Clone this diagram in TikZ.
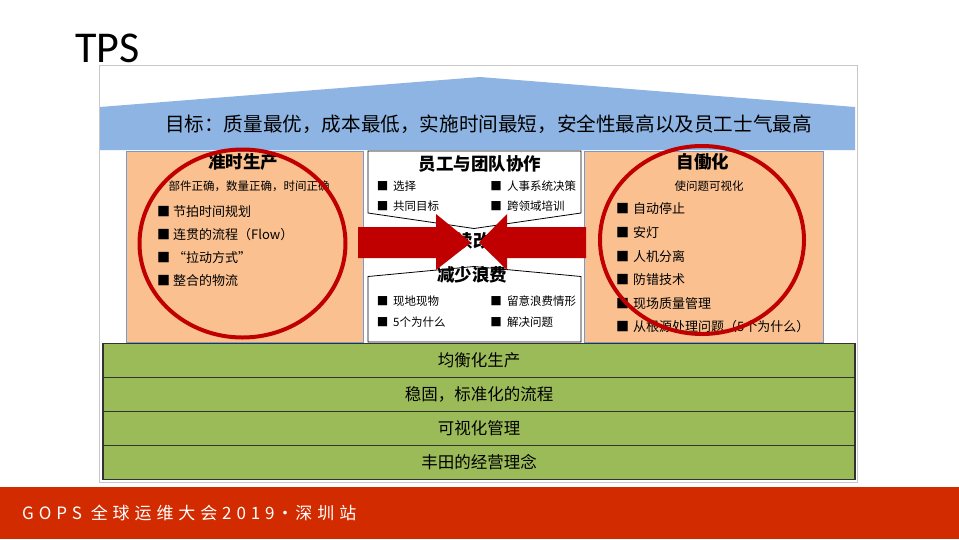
\documentclass[tikz,border=0pt]{standalone}
\usepackage{fontspec}
\setmainfont{Noto Sans CJK SC}
\newfontfamily\tpsfont{Carlito}
\definecolor{roofblue}{RGB}{141,180,226}
\definecolor{pillarorange}{RGB}{250,192,144}
\definecolor{pillaredge}{RGB}{120,155,205}
\definecolor{bargreen}{RGB}{155,187,89}
\definecolor{baredge}{RGB}{50,50,50}
\definecolor{ringred}{RGB}{192,0,0}
\definecolor{footred}{RGB}{210,43,0}
\definecolor{framegrey}{RGB}{200,200,200}
\newcommand\lsp[1]{#1\kern4.9pt}
\begin{document}
\begin{tikzpicture}[x=1pt,y=-1pt,
  txt/.style={inner sep=0pt, text height=0.88em, text depth=0.12em},
  head/.style={txt, font=\fontsize{17.5}{19}\selectfont\bfseries},
  sub/.style={txt, font=\fontsize{11.5}{13}\selectfont},
  item/.style={txt, anchor=west, font=\fontsize{13}{15}\selectfont},
  mitem/.style={txt, anchor=west, font=\fontsize{11.5}{13}\selectfont},
  bul/.style={txt, font=\fontsize{13}{15}\selectfont},
  mbul/.style={txt, font=\fontsize{11.5}{13}\selectfont},
  pillar/.style={fill=pillarorange, draw=pillaredge, line width=0.8pt},
  midbox/.style={fill=white, draw=black, line width=0.8pt},
  greenbar/.style={fill=bargreen, draw=baredge, line width=1.2pt, minimum width=752pt, minimum height=34pt, inner sep=0pt, font=\fontsize{16.5}{18}\selectfont},
  redring/.style={draw=ringred, line width=4pt},
  bigarrow/.style={fill=ringred, draw=none}]
\useasboundingbox (0,0) rectangle (959,539);
\fill[white] (0,0) rectangle (959,539);
% title
\node[inner sep=0pt, anchor=base west, font=\tpsfont\fontsize{44}{46}\selectfont] (tps) at (75,62) {TPS};
% frame
\draw[framegrey, line width=0.8pt] (99,65) rectangle (857,482);
% roof
\fill[roofblue] (100,150) -- (100,107) -- (480,77) -- (855,107) -- (855,150) -- cycle;
\node[txt, font=\fontsize{19.6}{22}\selectfont] (goal) at (488.5,128) {目标：质量最优，成本最低，实施时间最短，安全性最高以及员工士气最高};
% pillars
\draw[pillar] (126,151) rectangle (363,342);
\draw[pillar] (584,151) rectangle (823,342);
% middle boxes
\draw[midbox] (368,151) -- (581,151) -- (581,213) -- (474,228.5) -- (368,213) -- cycle;
\draw[midbox] (368,276.5) -- (474,266.5) -- (581,276.5) -- (581,342) -- (368,342) -- cycle;
% left pillar text
\node[head] (jit) at (243,165) {准时生产};
\node[sub] (jitsub) at (249,187) {部件正确，数量正确，时间正确};
\foreach \t [count=\i] in {节拍时间规划, 连贯的流程（Flow）, “拉动方式”, 整合的物流} {
  \node[bul] (lb\i) at (163.5,{213+23*(\i-1)}) {■};
  \node[item] (lt\i) at (173,{213+23*(\i-1)}) {\t};
}
% right pillar text
\node[head] (jido) at (703,165) {自働化};
\node[sub] (jidosub) at (709,187) {使问题可视化};
\foreach \t [count=\i] in {自动停止, 安灯, 人机分离, 防错技术, 现场质量管理, 从根源处理问题（5个为什么）} {
  \node[bul] (rb\i) at (622.5,{210+23.6*(\i-1)}) {■};
  \node[item] (rt\i) at (633,{210+23.6*(\i-1)}) {\t};
}
% middle top
\node[head] (team) at (480,167) {员工与团队协作};
\node[mbul] (tb1) at (382.5,187) {■};
\node[mitem] (tt1) at (393,187) {选择};
\node[mbul] (tb2) at (382.5,207) {■};
\node[mitem] (tt2) at (393,207) {共同目标};
\node[mbul] (tb3) at (496,187) {■};
\node[mitem] (tt3) at (507,187) {人事系统决策};
\node[mbul] (tb4) at (496,207) {■};
\node[mitem] (tt4) at (507,207) {跨领域培训};
% middle bottom
\node[head] (waste) at (472,278) {减少浪费};
\node[mbul] (wb1) at (382.5,302) {■};
\node[mitem] (wt1) at (393,302) {现地现物};
\node[mbul] (wb2) at (382.5,323) {■};
\node[mitem] (wt2) at (393,323) {5个为什么};
\node[mbul] (wb3) at (496,302) {■};
\node[mitem] (wt3) at (507,302) {留意浪费情形};
\node[mbul] (wb4) at (496,323) {■};
\node[mitem] (wt4) at (507,323) {解决问题};
% kaizen
\node[head] (kaizen) at (473,244) {持续改善};
% arrows
\fill[bigarrow] (358,227) -- (436,227) -- (436,214) -- (471,242.5) -- (436,270) -- (436,258) -- (358,258) -- cycle;
\fill[bigarrow] (586,227) -- (507,227) -- (507,214) -- (479,242.5) -- (507,270) -- (507,258) -- (586,258) -- cycle;
% rings
\draw[redring] (242.5,243.5) ellipse [x radius=103, y radius=94];
\draw[redring] (702,240) ellipse [x radius=102, y radius=94];
% green bars
\node[greenbar] (g1) at (479,360.5) {均衡化生产};
\node[greenbar] (g2) at (479,394.5) {稳固，标准化的流程};
\node[greenbar] (g3) at (479,428.5) {可视化管理};
\node[greenbar] (g4) at (479,462.5) {丰田的经营理念};
% footer
\fill[footred] (0,487) rectangle (959,539);
\node[txt, anchor=west, text=white, font=\fontsize{17}{19}\selectfont] (foot) at (22,516) {\lsp{G}\lsp{O}\lsp{P}\lsp{S}\ \lsp{全}\lsp{球}\lsp{运}\lsp{维}\lsp{大}\lsp{会}\lsp{2}\lsp{0}\lsp{1}\lsp{9}\kern-3pt\lsp{·}\kern-3pt\lsp{深}\lsp{圳}站};
\end{tikzpicture}
\end{document}
